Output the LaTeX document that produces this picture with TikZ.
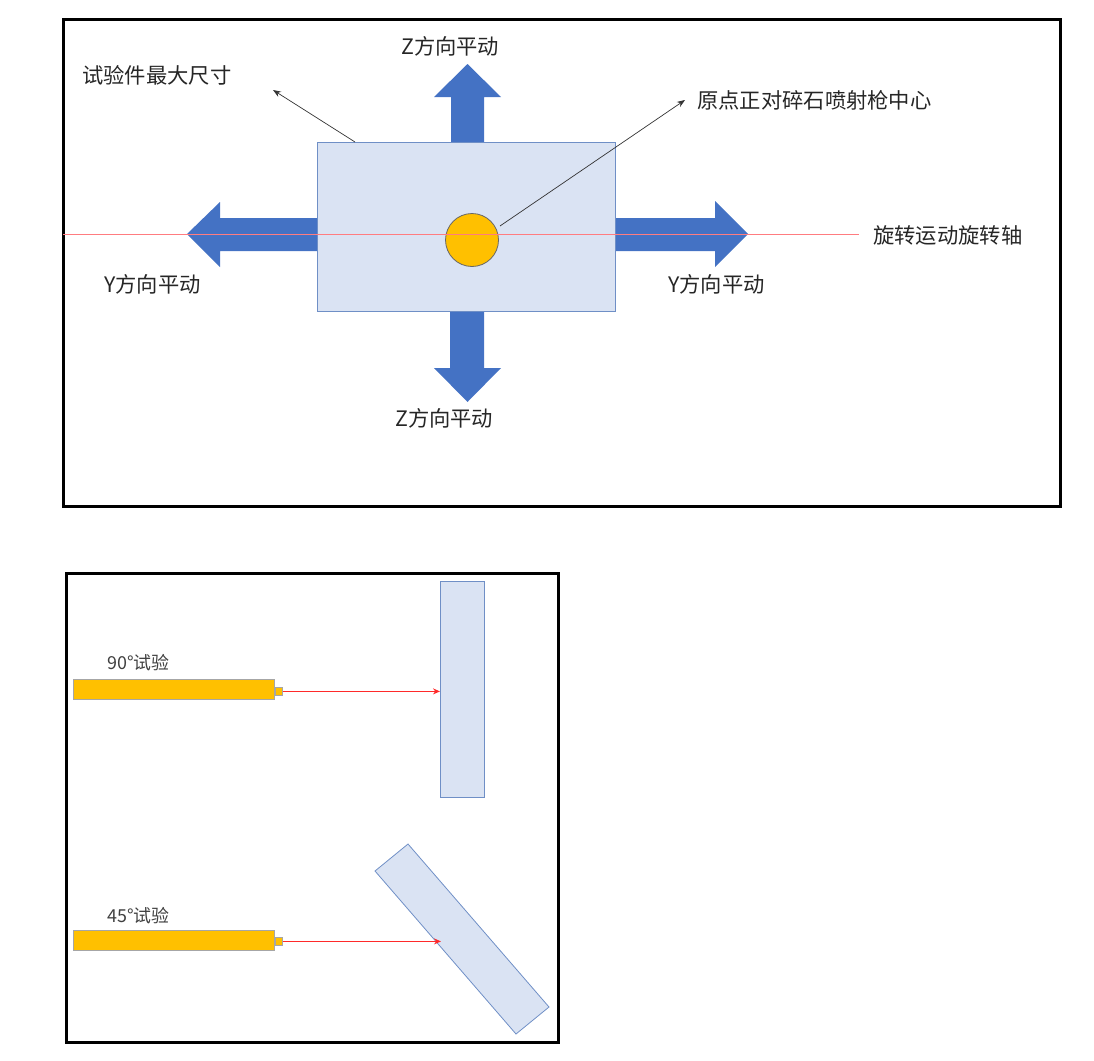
\documentclass[tikz,border=0pt]{standalone}
\usepackage{fontspec}
\setmainfont{Noto Sans CJK SC}
\usetikzlibrary{arrows.meta}
\definecolor{blk}{HTML}{4472C4}
\definecolor{pale}{HTML}{DAE3F3}
\definecolor{edge}{HTML}{6F8FC6}
\definecolor{gold}{HTML}{FFC000}
\definecolor{axisred}{HTML}{FF7C80}
\definecolor{shotred}{HTML}{FF2A2A}
\definecolor{txt}{HTML}{262626}
\definecolor{txtg}{HTML}{404040}
\tikzset{
  frame/.style={draw=black,line width=2.6pt},
  panel/.style={draw=edge,fill=pale,line width=0.8pt},
  blockarrow/.style={fill=blk,draw=none},
  lab/.style={text=txt,font=\fontsize{21.3}{23}\selectfont,inner sep=0pt},
  labs/.style={text=txtg,font=\fontsize{17.9}{19}\selectfont,inner sep=0pt},
  pointer/.style={draw=black!80,line width=0.7pt,-{Stealth[length=8pt,width=6pt]}},
  shot/.style={draw=shotred,line width=1.3pt,-{Stealth[length=7pt,width=6pt]}},
  gun/.style={draw=black!35,fill=gold,line width=0.8pt},
}
\begin{document}
\begin{tikzpicture}[x=1pt,y=-1pt]
\useasboundingbox (0,0) rectangle (1094,1060);
% ---------- top panel ----------
\node[frame,minimum width=997pt,minimum height=487pt,anchor=north west,inner sep=0pt] (top) at (62,18) {};
% block arrows
\fill[blockarrow] (451,142) -- (451,97) -- (434,97) -- (467.5,64) -- (501,97) -- (484,97) -- (484,142) -- cycle;
\fill[blockarrow] (450,311) -- (450,368) -- (434,368) -- (467.5,402) -- (501,368) -- (484,368) -- (484,311) -- cycle;
\fill[blockarrow] (317,218) -- (220,218) -- (220,202) -- (187,234) -- (220,267) -- (220,251) -- (317,251) -- cycle;
\fill[blockarrow] (615,218) -- (715,218) -- (715,201) -- (748,234) -- (715,267) -- (715,251) -- (615,251) -- cycle;
% specimen
\node[panel,minimum width=298pt,minimum height=169pt,anchor=north west,inner sep=0pt] (spec) at (317,142) {};
% rotation axis
\coordinate (axL) at (63,234);
\coordinate (axR) at (859,234);
\draw[axisred,line width=0.8pt] (axL) -- (axR);
% origin
\node[circle,draw=black!60,fill=gold,line width=0.8pt,minimum size=53pt,inner sep=0pt] (orig) at (472,240) {};
\draw[axisred,line width=0.8pt] (orig.west |- axL) -- (orig.east |- axL);
% labels
\node[lab,anchor=west] (zt) at (401,46) {Z方向平动};
\node[lab,anchor=west] (zb) at (395,418) {Z方向平动};
\node[lab,anchor=west] (yl) at (104,284) {Y方向平动};
\node[lab,anchor=west] (yr) at (668,284) {Y方向平动};
\node[lab,anchor=west] (size) at (82,75) {试验件最大尺寸};
\node[lab,anchor=west] (cent) at (697,100) {原点正对碎石喷射枪中心};
\node[lab,anchor=west] (axis) at (873,235) {旋转运动旋转轴};
% pointers
\coordinate (sizeS) at (355,142);
\coordinate (sizeT) at (273,90);
\draw[pointer] (sizeS) -- (sizeT);
\coordinate (centS) at (500,226);
\coordinate (centT) at (685,100);
\draw[pointer] (centS) -- (centT);
% ---------- bottom panel ----------
\node[frame,minimum width=492pt,minimum height=469pt,anchor=north west,inner sep=0pt] (bot) at (65,572) {};
% 90 degree test
\node[gun,minimum width=201pt,minimum height=20pt,anchor=north west,inner sep=0pt] (gunA) at (73,679) {};
\node[gun,minimum width=7pt,minimum height=8pt,anchor=west,inner sep=0pt] (nozA) at ([yshift=-2pt]gunA.east) {};
\node[panel,minimum width=44pt,minimum height=216pt,anchor=north west,inner sep=0pt] (tgtA) at (440,581) {};
\draw[shot] (nozA.east) -- (nozA.east -| tgtA.west);
\node[labs,anchor=west] (labA) at (107,663) {90°试验};
% 45 degree test
\node[gun,minimum width=201pt,minimum height=20pt,anchor=north west,inner sep=0pt] (gunB) at (73,930) {};
\node[gun,minimum width=7pt,minimum height=8pt,anchor=west,inner sep=0pt] (nozB) at ([yshift=-1pt]gunB.east) {};
\coordinate (tb1) at (375,871);
\coordinate (tb2) at (408,844);
\coordinate (tb3) at (549,1007);
\coordinate (tb4) at (516,1034);
\draw[panel] (tb1) -- (tb2) -- (tb3) -- (tb4) -- cycle;
\coordinate (hitB) at (nozB.east -| 441,0);
\draw[shot] (nozB.east) -- (hitB);
\node[labs,anchor=west] (labB) at (107,916) {45°试验};
\end{tikzpicture}
\end{document}
